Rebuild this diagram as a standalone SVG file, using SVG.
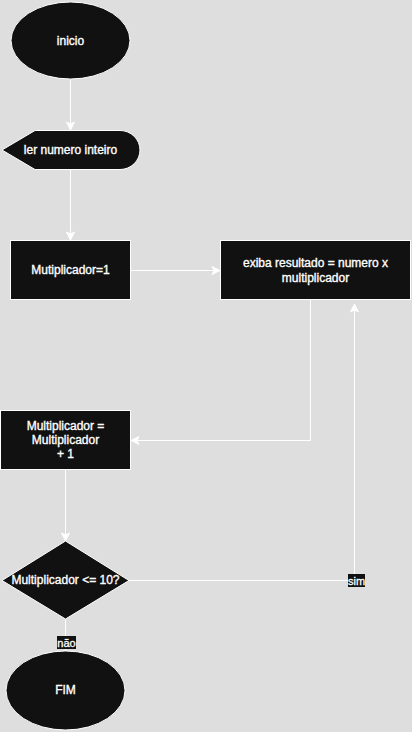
<svg xmlns="http://www.w3.org/2000/svg" width="412" height="732" viewBox="0 0 412 732">
<defs>
<style>
.shape{fill:#111111;stroke:#ffffff;stroke-width:1}
.t{fill:#ffffff;stroke:#ffffff;stroke-width:0.35;font-family:"Liberation Sans",Arial,sans-serif;font-size:12px;text-anchor:middle;dominant-baseline:central}
.lbl{fill:#ffffff;stroke:#ffffff;stroke-width:0.3;font-family:"Liberation Sans",Arial,sans-serif;font-size:11px;text-anchor:middle;dominant-baseline:central}
.edge{fill:none;stroke:#ffffff;stroke-width:1}
</style>
<marker id="arr" markerUnits="userSpaceOnUse" markerWidth="10" markerHeight="10" viewBox="0 0 10 10" refX="9" refY="5" orient="auto">
<path d="M1,1 L9,5 L1,9 L3,5 Z" fill="#ffffff" stroke="#ffffff" stroke-width="1"/>
</marker>
</defs>
<rect x="0" y="0" width="412" height="732" fill="#dedede"/>
<g id="connectors">
<path class="edge" d="M70.5,80 L70.5,130" marker-end="url(#arr)"/>
<path class="edge" d="M70.5,170 L70.5,240" marker-end="url(#arr)"/>
<path class="edge" d="M130,270.5 L220,270.5" marker-end="url(#arr)"/>
<path class="edge" d="M310.5,300 L310.5,440.5 L131,440.5" marker-end="url(#arr)"/>
<path class="edge" d="M65.5,470 L65.5,541" marker-end="url(#arr)"/>
<path class="edge" d="M129,580.5 L354.5,580.5 L354.5,304" marker-end="url(#arr)"/>
<path class="edge" d="M65.5,619 L65.5,651"/>
<rect x="348" y="574" width="17" height="13" fill="#111111"/>
<text class="lbl" x="356.5" y="580.5">sim</text>
<rect x="57" y="636" width="19" height="13" fill="#111111"/>
<text class="lbl" x="66.5" y="642.5">não</text>
</g>
<g id="inicio">
<ellipse class="shape" cx="70.5" cy="40.5" rx="59.5" ry="38.5"/>
<text class="t" x="70.5" y="40.5">inicio</text>
</g>
<g id="ler">
<path class="shape" d="M2,150 L35,130.5 L120,130.5 A20,19.5 0 0 1 120,169.5 L35,169.5 Z"/>
<text class="t" x="70.5" y="150">ler numero inteiro</text>
</g>
<g id="mutiplicador1">
<rect class="shape" x="10.5" y="240.5" width="120" height="59"/>
<text class="t" x="70.5" y="270">Mutiplicador=1</text>
</g>
<g id="exiba">
<rect class="shape" x="220.5" y="240.5" width="190" height="59"/>
<text class="t" x="315.5" y="263">exiba resultado = numero x</text>
<text class="t" x="315.5" y="278">multiplicador</text>
</g>
<g id="incremento">
<rect class="shape" x="0.5" y="410.5" width="130" height="59"/>
<text class="t" x="65.5" y="426">Multiplicador =</text>
<text class="t" x="65.5" y="440">Multiplicador</text>
<text class="t" x="65.5" y="454">+ 1</text>
</g>
<g id="decisao">
<path class="shape" d="M65.5,541 L129,580.5 L65.5,619 L2,580.5 Z"/>
<text class="t" x="65.5" y="580">Multiplicador &lt;= 10?</text>
</g>
<g id="fim">
<ellipse class="shape" cx="65.5" cy="690.5" rx="59.5" ry="39.5"/>
<text class="t" x="65.5" y="690">FIM</text>
</g>
</svg>
